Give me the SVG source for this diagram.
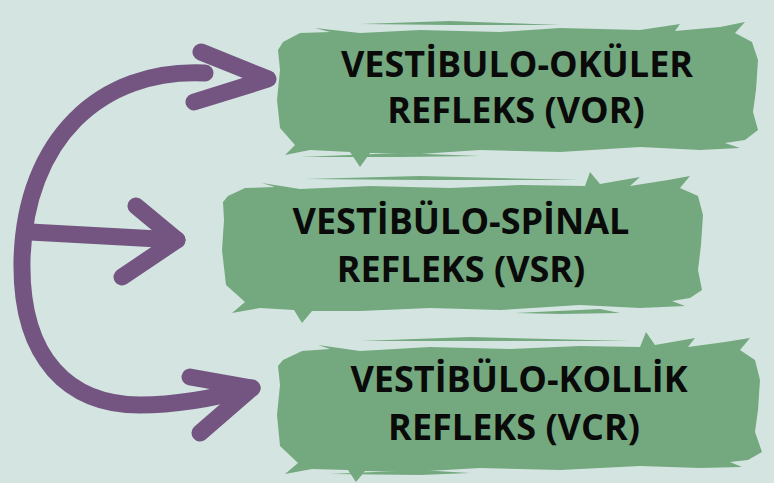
<svg xmlns="http://www.w3.org/2000/svg" width="774" height="483" viewBox="0 0 774 483">
<style>
.brush{fill:#74a97f}
.lbl{font-family:"Open Sans","Liberation Sans",sans-serif;font-weight:700;font-size:36px;fill:#0a0a0a;text-anchor:middle}
.arr{fill:none;stroke:#745581;stroke-width:17;stroke-linecap:round;stroke-linejoin:round}
</style>
<rect width="774" height="483" fill="#d4e5e1"/>
<g id="node-vor">
<polygon class="brush" points="283,42 300,33 330,32 315,28 360,33 420,30 500,32 560,28 640,30 680,24 675,31 720,27 745,22 735,33 752,42 758,60 756,90 753,112 758,130 745,140 725,143 740,148 700,150 640,147 560,152 480,150 420,154 370,153 360,167 350,152 310,150 285,155 295,145 280,128 277,100 280,70 278,50"/>
<polygon class="brush" points="360,24 450,21 560,25 450,25"/>
<polygon class="brush" points="300,157 400,153 480,156 400,157"/>
<text class="lbl" x="517" y="77">VESTİBULO-OKÜLER</text>
<text class="lbl" x="516" y="123">REFLEKS (VOR)</text>
</g>
<g id="node-vsr">
<polygon class="brush" points="228,196 245,188 275,187 262,183 300,189 370,186 450,188 520,185 585,186 590,172 600,184 640,177 630,186 668,180 690,176 680,188 698,196 703,215 701,245 698,270 702,290 690,298 672,301 685,306 640,308 580,305 500,310 430,308 360,311 312,311 302,323 294,310 260,308 232,313 245,302 226,285 222,250 224,220 223,202"/>
<polygon class="brush" points="305,179 420,176 580,180 420,180"/>
<polygon class="brush" points="515,313 600,309 620,313 560,314"/>
<text class="lbl" x="461" y="234">VESTİBÜLO-SPİNAL</text>
<text class="lbl" x="461" y="282">REFLEKS (VSR)</text>
</g>
<g id="node-vcr">
<polygon class="brush" points="283,360 302,351 330,349 318,345 360,351 430,347 510,349 580,346 640,347 646,332 655,345 695,338 688,347 725,342 750,338 740,350 755,360 760,380 758,410 755,432 762,452 748,460 730,462 742,467 700,468 640,466 560,470 480,468 410,472 365,471 356,482 348,470 312,469 285,474 298,463 280,446 277,415 280,385 278,366"/>
<polygon class="brush" points="360,341 470,337 630,341 470,341"/>
<polygon class="brush" points="330,474 420,470 470,473 420,475"/>
<text class="lbl" x="519" y="392">VESTİBÜLO-KOLLİK</text>
<text class="lbl" x="514" y="440">REFLEKS (VCR)</text>
</g>
<g id="connectors">
<path class="arr" d="M205 73 C100 68 25 140 22 260 C20 360 70 405 140 405 C180 405 215 398 252 388"/>
<path class="arr" d="M201 52 L268 79 L194 102"/>
<path class="arr" d="M190 377 L252 388 L200 433"/>
<path class="arr" d="M30 232 L177 240"/>
<path class="arr" d="M136 206 L177 240 L122 277"/>
</g>
</svg>
